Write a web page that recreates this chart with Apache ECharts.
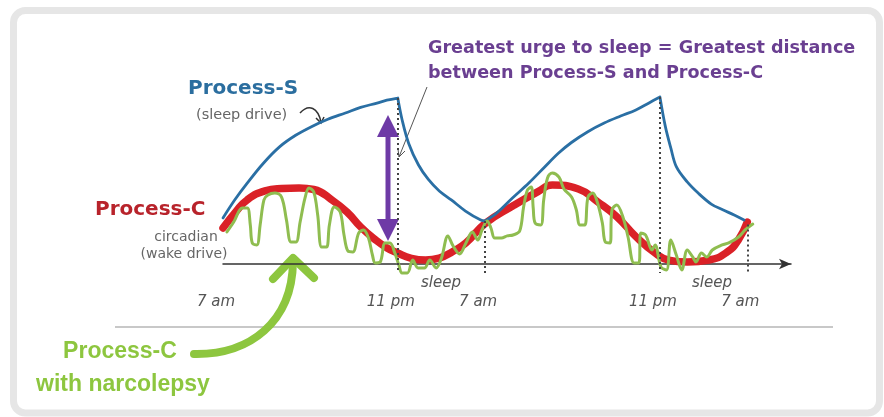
<!DOCTYPE html>
<html>
<head>
<meta charset="utf-8">
<script src="https://cdn.jsdelivr.net/npm/echarts@6/dist/echarts.min.js"></script>
<style>
html,body{margin:0;padding:0;background:#fff;}
#chart{width:884px;height:417px;}
</style>
</head>
<body>
<div id="chart"></div>
<script>
// ---- data (x = hours after the first 7 am, y = drive level, arbitrary units) ----
const sHours = [0,1.1,2.2,3.7,5.2,6.65,8.1,9.6,11.2,12.6,14.1,15,16,
  16.4,17,17.9,18.8,19.8,20.9,22.2,23.6,24,
  25.05,26.5,28,29.45,30.7,31.9,33.4,34.9,36.4,37.8,39,40,
  40.5,41,41.5,42.5,43.5,44.7,45.8,46.8,47.7];
const sLevel = [25.6,35.8,44.8,56,65.2,71.5,76.3,80.4,83.9,87,89.4,91,92.2,
  80,67,55,47,40.6,35.6,29.4,24.4,23.9,
  28.3,36.7,45,53.9,61.5,67.5,73.5,78.3,82.2,85.6,89.5,92.8,
  76.3,64.4,54.1,45.6,39.4,33.3,30,27.2,24.4];
const sCusps = [16,24,40];

const cHours = [0,1.16,2.21,3.84,5.36,6.97,8.31,10.1,11.44,12.6,13.86,15.02,16,17.17,18.54,19.8,20.97,22.24,24,
  26.52,28.84,30.15,32.53,34.29,36.05,37.8,39.56,40.8,42.5,44.5,46.17,47.17,48];
const cLevel = [20,28.9,35.6,40.6,41.9,42.2,41.4,35,28.3,20.6,13.9,8.9,6.1,3.3,2.2,3.3,6.7,11.7,22.5,
  32.2,40.2,43.9,41.7,34.6,26.3,15.2,6.1,2.2,1.1,2.2,6.7,13.3,23.3];

const nHours = [0.36,0.98,1.76,2.23,2.50,2.68,3.10,3.40,3.75,4.11,
  4.74,5.36,5.81,6.23,6.68,7.06,7.51,7.87,8.31,8.67,
  9.03,9.48,9.74,10.19,10.73,11.08,11.44,11.89,12.42,12.87,
  13.32,13.68,13.94,14.39,14.84,15.29,15.73,16.10,16.39,16.88,
  17.37,17.86,18.44,18.93,19.51,20.0,20.59,21.07,21.66,22.24,
  22.83,23.32,23.71,24.18,24.53,24.88,25.49,26.02,26.55,27.16,
  27.52,27.87,28.22,28.40,28.57,29.10,29.36,29.71,30.15,30.76,
  31.21,31.91,32.35,32.68,33.12,33.41,33.85,34.29,34.73,35.0,
  35.43,35.61,36.05,36.64,37.08,37.63,38.07,38.25,38.69,39.28,
  39.56,40.1,40.6,41.0,41.5,42.0,42.5,43.0,43.3,43.8,
  44.3,44.8,45.7,46.3,47.2,47.8,48.5];
const nLevel = [17.8,23.3,31.1,31.1,21.7,11.7,10.6,21.7,35.6,38.3,
  39.4,37.2,24.4,12.2,12.2,23.3,36.7,42.2,40.0,27.2,
  9.4,9.4,21.7,31.7,28.9,16.1,7.2,6.7,17.2,18.9,
  14.4,5.0,0.6,1.1,11.7,11.7,6.1,-0.6,-5.0,-5.0,
  2.2,-2.2,-2.2,2.2,-2.2,3.3,15.6,10.0,5.6,11.7,
  17.8,13.3,18.9,23.9,20.0,14.4,14.4,15.6,16.1,18.3,
  31.7,41.1,42.8,31.1,22.8,21.7,35.6,47.8,50.6,48.3,
  41.7,37.2,30.0,21.7,21.7,37.2,39.4,33.9,22.8,12.2,
  11.7,30.0,32.8,25.6,15.0,0.6,0.6,17.2,16.1,7.8,
  10.6,-1.7,-3.3,13.3,5.0,-3.3,7.8,3.9,1.1,6.1,
  3.9,7.8,10.6,11.7,15.0,18.9,22.2];

const tickHours = [0,16,24,40,48];
const tickLabels = ['7 am','11 pm','7 am','11 pm','7 am'];
const dropHours = [16,24,40,48];
const dropTop = [92.2,23.9,92.8,22];
const dropBottom = -5;

// ---- build ----
const pairs = (xs, ys) => xs.map((x, i) => [x, ys[i]]);
// split Process-S at its cusps so each monotone piece is smoothed on its own
const sData = [];
sHours.forEach((h, i) => {
  sData.push([h, sLevel[i]]);
  if (sCusps.indexOf(h) >= 0) { sData.push([h, '-']); sData.push([h, sLevel[i]]); }
});

const chart = echarts.init(document.getElementById('chart'), null, {renderer:'canvas'});
const FONT = '"DejaVu Sans", sans-serif';
const mid = {verticalAlign: 'middle', textVerticalAlign: 'middle'};
const ctr = {align: 'center', textAlign: 'center', verticalAlign: 'middle', textVerticalAlign: 'middle'};

const option = {
  animation: false,
  backgroundColor: '#fff',
  grid: {left: 223, right: 93, top: 84, bottom: 108},
  xAxis: {
    type: 'value', min: 0, max: 52, interval: 8,
    splitLine: {show: false},
    axisTick: {show: false},
    axisLine: {onZero: true, symbol: ['none', 'arrow'], symbolSize: [8, 12],
      lineStyle: {color: '#333', width: 1.5}},
    axisLabel: {
      margin: -14, color: '#555', fontStyle: 'italic', fontFamily: FONT, fontSize: 15,
      padding: [0, 14, 0, 0],
      showMinLabel: true, showMaxLabel: false,
      formatter: v => { const i = tickHours.indexOf(v); return i >= 0 ? tickLabels[i] : ''; }
    }
  },
  yAxis: {type: 'value', min: -25, max: 100, show: false},
  series: [
    {
      name: 'Process-C', type: 'line', data: pairs(cHours, cLevel),
      smooth: 0.5, symbol: 'none', z: 2,
      lineStyle: {color: '#da2127', width: 7.5, cap: 'round'}
    },
    {
      name: 'Process-S', type: 'line', data: sData, connectNulls: false,
      smooth: 0.35, symbol: 'none', z: 3,
      lineStyle: {color: '#2a6fa4', width: 2.8, cap: 'round', join: 'round'},
      markLine: {
        silent: true, symbol: ['none', 'none'], animation: false,
        label: {show: false},
        lineStyle: {color: '#444', type: [2, 3], width: 2},
        data: dropHours.map((h, i) => [{coord: [h, dropTop[i]]}, {coord: [h, dropBottom]}])
      }
    },
    {
      name: 'Process-C with narcolepsy', type: 'line', data: pairs(nHours, nLevel),
      smooth: 0.35, symbol: 'none', z: 4,
      lineStyle: {color: '#8fbd50', width: 3, cap: 'round', join: 'round'}
    }
  ],
  graphic: {elements: [
    {type: 'rect', z: -10, shape: {x: 13.5, y: 10.5, width: 866, height: 402.5, r: 12},
      style: {fill: '#fff', stroke: '#e6e6e6', lineWidth: 7}},
    {type: 'line', shape: {x1: 115, y1: 327, x2: 833, y2: 327},
      style: {stroke: '#c8c8c8', lineWidth: 2}},
    // titles
    {type: 'text', x: 428, y: 48, style: Object.assign({text: 'Greatest urge to sleep = Greatest distance',
      font: 'bold 17.6px ' + FONT, fill: '#6a3f91'}, mid)},
    {type: 'text', x: 428, y: 73, style: Object.assign({text: 'between Process-S and Process-C',
      font: 'bold 17.6px ' + FONT, fill: '#6a3f91'}, mid)},
    {type: 'text', x: 188, y: 89, style: Object.assign({text: 'Process-S',
      font: 'bold 20px ' + FONT, fill: '#2b6e9f'}, mid)},
    {type: 'text', x: 196, y: 115, style: Object.assign({text: '(sleep drive)',
      font: '14.5px ' + FONT, fill: '#666'}, mid)},
    {type: 'text', x: 95, y: 210, style: Object.assign({text: 'Process-C',
      font: 'bold 20px ' + FONT, fill: '#b8232b'}, mid)},
    {type: 'text', x: 186, y: 237, style: Object.assign({text: 'circadian',
      font: '14px ' + FONT, fill: '#666'}, ctr)},
    {type: 'text', x: 184, y: 254, style: Object.assign({text: '(wake drive)',
      font: '14px ' + FONT, fill: '#666'}, ctr)},
    {type: 'text', x: 441, y: 283, style: Object.assign({text: 'sleep',
      font: 'italic 15px ' + FONT, fill: '#555'}, ctr)},
    {type: 'text', x: 712, y: 283, style: Object.assign({text: 'sleep',
      font: 'italic 15px ' + FONT, fill: '#555'}, ctr)},
    {type: 'text', x: 120, y: 352, style: Object.assign({text: 'Process-C',
      font: 'bold 23px "Liberation Sans", Arial, sans-serif', fill: '#8dc63f'}, ctr)},
    {type: 'text', x: 123, y: 385, style: Object.assign({text: 'with narcolepsy',
      font: 'bold 23px "Liberation Sans", Arial, sans-serif', fill: '#8dc63f'}, ctr)},
    // purple double arrow
    {type: 'line', shape: {x1: 388, y1: 130, x2: 388, y2: 226},
      style: {stroke: '#6e3aa6', lineWidth: 5}},
    {type: 'polygon', shape: {points: [[388, 115], [377, 137], [399, 137]]}, style: {fill: '#6e3aa6'}},
    {type: 'polygon', shape: {points: [[388, 241], [377, 219], [399, 219]]}, style: {fill: '#6e3aa6'}},
    // thin pointer
    {type: 'line', shape: {x1: 427, y1: 87, x2: 399, y2: 157}, style: {stroke: '#555', lineWidth: 1}},
    {type: 'polyline', shape: {points: [[398, 149], [399, 157], [405, 151]]}, style: {stroke: '#555', lineWidth: 1, fill: 'none'}},
    // curly arrow
    {type: 'bezierCurve', shape: {x1: 300, y1: 113, cpx1: 309, cpy1: 103, cpx2: 318, cpy2: 108, x2: 321, y2: 122},
      style: {stroke: '#333', lineWidth: 1.5, fill: 'none'}},
    {type: 'polyline', shape: {points: [[316, 118], [321, 123], [324, 117]]}, style: {stroke: '#333', lineWidth: 1.5, fill: 'none'}},
    // green arrow
    {type: 'bezierCurve', shape: {x1: 194, y1: 354, cpx1: 250, cpy1: 355, cpx2: 292, cpy2: 322, x2: 293, y2: 262},
      style: {stroke: '#8dc63f', lineWidth: 8, lineCap: 'round', fill: 'none'}},
    {type: 'polyline', shape: {points: [[273, 279], [293, 258], [314, 278]]},
      style: {stroke: '#8dc63f', lineWidth: 8, lineCap: 'round', lineJoin: 'round', fill: 'none'}}
  ]}
};
chart.setOption(option);
</script>
</body>
</html>
